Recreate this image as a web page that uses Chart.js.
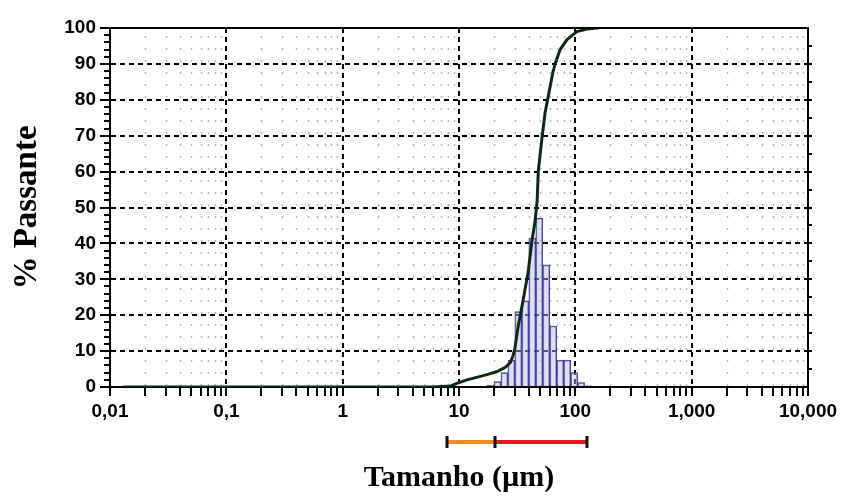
<!DOCTYPE html>
<html><head><meta charset="utf-8">
<script src="https://cdn.jsdelivr.net/npm/chart.js@4.4.1/dist/chart.umd.min.js"></script>
<style>html,body{margin:0;padding:0;background:#fff;}#wrap{width:842px;height:496px;}</style>
</head><body><div id="wrap"><canvas id="c" width="842" height="496"></canvas></div>
<script>
// ---- data ----
const xTickValues = [0.01, 0.1, 1, 10, 100, 1000, 10000];
const xTickLabels = ['0,01', '0,1', '1', '10', '100', '1,000', '10,000'];
const yTickValues = [0, 10, 20, 30, 40, 50, 60, 70, 80, 90, 100];

// histogram (bin centre size in µm, bar height)
const histSizes  = [18.62, 21.38, 24.55, 28.18, 32.36, 37.15, 42.66, 48.98, 56.23, 64.57, 74.13, 85.11, 97.72, 112.2, 128.8];
const histValues = [0.5,   1.5,   4,     7.5,   21,    24,    41.5,  47,    34,    17,    7.5,   7.5,   4,     1.2,   0.3];

// cumulative % passing curve
const cumSizes   = [0.013, 6, 8.5, 9.6, 11.7, 15, 18, 21.3, 22.5, 25, 27.5, 29, 30.3, 32.3, 35.5, 39.3, 42.5, 45, 47, 48, 51.5, 55, 61, 64, 67, 74, 84.5, 103, 126, 153, 160];
const cumPassing = [0,     0, 0.3, 1,   2,    2.9, 3.6, 4.3, 4.7, 5.5, 6.7, 8.5, 11, 17,   24,   32,   41,   46, 52, 60, 69,   76.5, 84, 87.5, 90, 94, 96.7, 99,  99.7, 100, 100];

// size-range markers under the axis
const rangeEdges  = [7.85, 20.4, 125.6];
const rangeColors = ['#f08a1e', '#e8161c'];

const xTitle = 'Tamanho (µm)';
const yTitle = '% Passante';

// ---- drawing ----
const decor = {
  id: 'decor',
  beforeDatasetsDraw(chart) {
    const {ctx, chartArea: a, scales: {x}} = chart;
    ctx.save();
    ctx.strokeStyle = 'rgba(0,0,0,0.28)';
    ctx.lineWidth = 1.5;
    ctx.setLineDash([2, 10]);
    for (let e = -2; e < 4; e++) {
      for (let m = 2; m < 10; m++) {
        const px = Math.round(x.getPixelForValue(m * Math.pow(10, e))) + 0.5;
        ctx.beginPath(); ctx.moveTo(px, a.top + 8); ctx.lineTo(px, a.bottom); ctx.stroke();
      }
    }
    ctx.restore();
  },
  afterDraw(chart) {
    const {ctx, chartArea: a, scales: {x, y}} = chart;
    ctx.save();
    ctx.setLineDash([]);
    ctx.strokeStyle = '#000';
    ctx.lineWidth = 2;
    ctx.beginPath();
    for (let e = -2; e < 4; e++) {
      for (let m = 2; m < 10; m++) {
        const px = Math.round(x.getPixelForValue(m * Math.pow(10, e)));
        ctx.moveTo(px, a.bottom); ctx.lineTo(px, a.bottom + 9);
      }
    }
    for (let v = 2; v < 100; v += 2) {
      if (v % 10 === 0) continue;
      const py = Math.round(y.getPixelForValue(v));
      ctx.moveTo(a.left - 6, py); ctx.lineTo(a.left, py);
    }
    for (let v = 5; v < 100; v += 5) {
      const py = Math.round(y.getPixelForValue(v));
      ctx.moveTo(a.right, py); ctx.lineTo(a.right + 4, py);
    }
    ctx.stroke();
    // frame top / right
    ctx.beginPath();
    ctx.moveTo(a.left, a.top); ctx.lineTo(a.right, a.top); ctx.lineTo(a.right, a.bottom);
    ctx.stroke();
    // range markers
    const yb = a.bottom + 55;
    ctx.lineWidth = 4;
    for (let i = 0; i < rangeEdges.length - 1; i++) {
      ctx.strokeStyle = rangeColors[i];
      ctx.beginPath();
      ctx.moveTo(x.getPixelForValue(rangeEdges[i]), yb);
      ctx.lineTo(x.getPixelForValue(rangeEdges[i + 1]), yb);
      ctx.stroke();
    }
    ctx.strokeStyle = '#111';
    ctx.lineWidth = 3;
    ctx.beginPath();
    rangeEdges.forEach(v => {
      const px = Math.round(x.getPixelForValue(v));
      ctx.moveTo(px, yb - 6); ctx.lineTo(px, yb + 6);
    });
    ctx.stroke();
    ctx.restore();
  }
};

const tickFont = {family: "'Liberation Sans', Arial, sans-serif", size: 19, weight: 'bold'};
const titleFont = {family: "'Liberation Serif', 'Times New Roman', serif", weight: 'bold'};

new Chart(document.getElementById('c'), {
  type: 'bar',
  data: {
    datasets: [
      {
        type: 'line',
        order: 0,
        data: cumSizes.map((s, i) => ({x: s, y: cumPassing[i]})),
        borderColor: '#0d2a15',
        borderWidth: 3,
        pointRadius: 0,
        tension: 0,
        fill: false
      },
      {
        type: 'bar',
        order: 1,
        data: histSizes.map((s, i) => ({x: s, y: histValues[i]})),
        backgroundColor: 'rgba(185,185,240,0.45)',
        borderColor: 'rgba(40,40,140,0.85)',
        borderWidth: 1,
        borderSkipped: 'bottom',
        categoryPercentage: 1,
        barPercentage: 1
      }
    ]
  },
  options: {
    responsive: false,
    animation: false,
    devicePixelRatio: 1,
    layout: {padding: {left: 0, right: 34, top: 28, bottom: 0}},
    plugins: {legend: {display: false}, tooltip: {enabled: false}},
    scales: {
      x: {
        type: 'logarithmic',
        min: 0.01, max: 10000,
        offset: false,
        afterBuildTicks: s => { s.ticks = xTickValues.map(v => ({value: v})); },
        afterFit: s => { s.height = 109; },
        ticks: {
          autoSkip: false, maxRotation: 0, minRotation: 0, padding: 4, color: '#000', font: tickFont,
          callback: (v) => {
            const i = xTickValues.findIndex(t => Math.abs(t - v) / t < 1e-6);
            return i >= 0 ? xTickLabels[i] : '';
          }
        },
        grid: {offset: false, color: '#000', lineWidth: 2, tickLength: 9, tickWidth: 2, tickColor: '#000'},
        border: {display: true, color: '#000', width: 2, dash: [5, 4]},
        title: {display: true, text: xTitle, color: '#000', font: Object.assign({size: 30}, titleFont), padding: {top: 0, bottom: 0}}
      },
      y: {
        type: 'linear',
        min: 0, max: 100,
        afterBuildTicks: s => { s.ticks = yTickValues.map(v => ({value: v})); },
        afterFit: s => { s.width = 110; },
        ticks: {padding: 4, color: '#000', font: tickFont},
        grid: {color: '#000', lineWidth: 2, tickLength: 10, tickWidth: 2, tickColor: '#000'},
        border: {display: true, color: '#000', width: 2, dash: [5, 4]},
        title: {display: true, text: yTitle, color: '#000', font: Object.assign({size: 33}, titleFont), padding: {top: 8, bottom: 0}}
      }
    }
  },
  plugins: [decor]
});
</script>
</body></html>
